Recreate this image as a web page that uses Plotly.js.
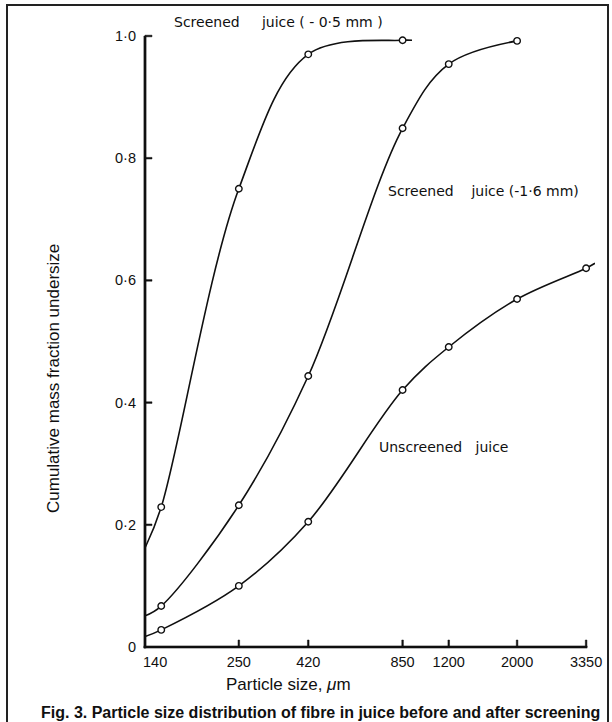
<!DOCTYPE html>
<html><head><meta charset="utf-8">
<script src="https://cdn.plot.ly/plotly-3.0.1.min.js"></script>
<style>html,body{margin:0;padding:0;background:#fff}</style>
</head><body><div id="chart" style="width:612px;height:722px"></div>
<script>
// ---- data ----
const sizes = [140, 250, 420, 850, 1200, 2000, 3350];          // sieve sizes, µm
const sizeTickVals = [250, 420, 850, 1200, 2000, 3350];
const sizeTickText = ['250', '420', '850', '1200', '2000', '3350'];
const screened05 = [0.229, 0.750, 0.970, 0.993];                // Screened juice (-0.5 mm)
const screened16 = [0.067, 0.232, 0.4435, 0.849, 0.954, 0.992]; // Screened juice (-1.6 mm)
const unscreened = [0.028, 0.100, 0.205, 0.4206, 0.491, 0.5695, 0.620];
// where the drawn curves run beyond the measured points
const curveStartSize = 124;
const curveStartVals = [0.162, 0.051, 0.017];
const screened05EndSize = 912, screened05EndVal = 0.993;
const unscreenedEndSize = 3580, unscreenedEndVal = 0.628;
const yTickVals = [0, 0.2, 0.4, 0.6, 0.8, 1.0];
const yTickText = ['0', '0·2', '0·4', '0·6', '0·8', '1·0'];

// ---- layout helpers ----
const L = 145, R = 595, T = 36, B = 647, W = 612, H = 722;
const px = x => (x - L) / (R - L);
const py = y => (B - y) / (B - T);
const xlo = Math.log10(curveStartSize), xhi = Math.log10(unscreenedEndSize);
const xFrac = v => (Math.log10(v) - xlo) / (xhi - xlo);
const ink = '#101010';
const lineStyle = {color: ink, width: 1.6, shape: 'spline', smoothing: 1};
const markerStyle = {symbol: 'circle', size: 6.5, color: '#fff', line: {color: ink, width: 1.4}};

const n05 = screened05.length, n16 = screened16.length;
const traces = [
  {x: [curveStartSize, ...sizes.slice(0, n05), screened05EndSize],
   y: [curveStartVals[0], ...screened05, screened05EndVal], mode: 'lines', line: lineStyle},
  {x: [curveStartSize, ...sizes.slice(0, n16)],
   y: [curveStartVals[1], ...screened16], mode: 'lines', line: lineStyle},
  {x: [curveStartSize, ...sizes, unscreenedEndSize],
   y: [curveStartVals[2], ...unscreened, unscreenedEndVal], mode: 'lines', line: lineStyle},
  {x: sizes.slice(0, n05), y: screened05, mode: 'markers', marker: markerStyle, cliponaxis: false},
  {x: sizes.slice(0, n16), y: screened16, mode: 'markers', marker: markerStyle, cliponaxis: false},
  {x: sizes, y: unscreened, mode: 'markers', marker: markerStyle, cliponaxis: false}
];

// axis lines and tick marks drawn as thin filled rectangles
const bar = (x0, x1, y0, y1) => ({type: 'rect', xref: 'paper', yref: 'paper',
  x0: x0, x1: x1, y0: y0, y1: y1, fillcolor: ink, line: {color: ink, width: 0.5}});
const dx = 1 / (R - L), dy = 1 / (B - T);
const axisShapes = [
  bar(-1.1 * dx, 1.1 * dx, -1.1 * dy, 1),
  bar(-1.1 * dx, xFrac(sizes[sizes.length - 1]) + dx, -1.1 * dy, 1.1 * dy),
  ...sizeTickVals.map(v => bar(xFrac(v) - 0.8 * dx, xFrac(v) + 0.8 * dx, 0, 7 * dy)),
  ...yTickVals.slice(1).map(v => bar(0, 7 * dx, v - 0.8 * dy, v + 0.8 * dy))
];

const tickFont = {family: 'Liberation Sans', size: 14.5, color: ink};
const lblFont = {family: 'DejaVu Sans', size: 14, color: ink};
const titleFont = {family: 'Liberation Sans', size: 17, color: ink};
const ann = (x, y, text, font, extra) => Object.assign({
  xref: 'paper', yref: 'paper', x: px(x), y: py(y), text: text, font: font,
  showarrow: false, xanchor: 'center', yanchor: 'middle'}, extra || {});

const layout = {
  width: W, height: H,
  margin: {l: L, r: W - R, t: T, b: H - B, pad: 0},
  paper_bgcolor: '#fff', plot_bgcolor: '#fff',
  showlegend: false,
  font: lblFont,
  xaxis: {type: 'log', range: [xlo, xhi], tickvals: sizeTickVals, ticktext: sizeTickText,
          ticks: '', showline: false, showgrid: false, zeroline: false,
          tickfont: tickFont, ticklabelstandoff: 4},
  yaxis: {range: [0, 1], tickvals: yTickVals, ticktext: yTickText,
          ticks: '', showline: false, showgrid: false, zeroline: false,
          tickfont: tickFont, ticklabelstandoff: 8},
  shapes: [
    {type: 'rect', xref: 'paper', yref: 'paper', x0: px(7), x1: px(608), y0: py(740), y1: py(5),
     line: {color: '#222', width: 2}, fillcolor: 'rgba(0,0,0,0)'},
    ...axisShapes
  ],
  annotations: [
    ann(155, 662, '140', tickFont),
    ann(172, 22, 'Screened\u00a0\u00a0\u00a0\u00a0 juice ( - 0·5 mm )', lblFont, {xanchor: 'left'}),
    ann(386, 191, 'Screened\u00a0\u00a0\u00a0 juice (-1·6 mm)', lblFont, {xanchor: 'left'}),
    ann(377, 447, 'Unscreened\u00a0\u00a0 juice', lblFont, {xanchor: 'left'}),
    ann(53, 379, 'Cumulative mass fraction undersize', titleFont, {textangle: -90}),
    ann(288, 685, 'Particle size, <i>μ</i>m', titleFont),
    ann(320, 713, '<b>Fig. 3. Particle size distribution of fibre in juice before and after screening</b>',
        {family: 'Liberation Sans', size: 16, color: ink})
  ]
};
Plotly.newPlot('chart', traces, layout, {staticPlot: true, displayModeBar: false});
</script></body></html>
